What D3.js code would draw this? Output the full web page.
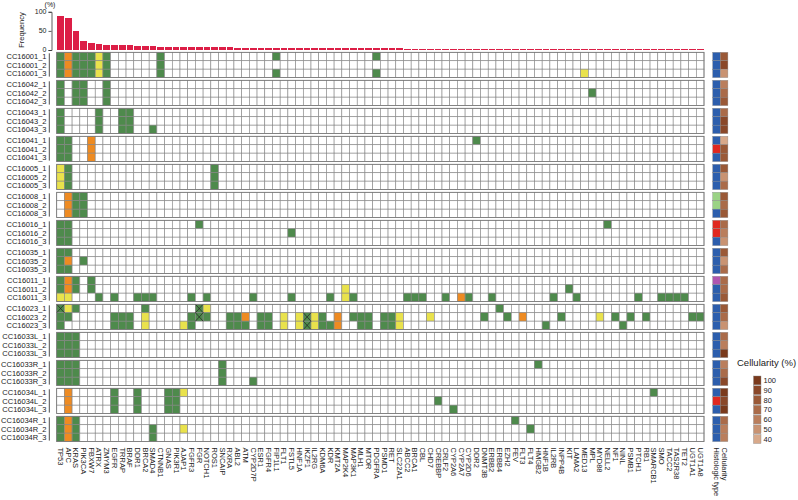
<!DOCTYPE html>
<html><head><meta charset="utf-8">
<script src="https://cdn.jsdelivr.net/npm/d3@7"></script>
<style>body{margin:0;background:#fff;} svg{display:block;font-family:"Liberation Sans",Arial,Helvetica,sans-serif;}</style>
</head><body><svg id="c" width="798" height="500"></svg>
<script>
const genes = ["TP53","APC","KRAS","PIK3CA","FBXW7","ATRX","ZMYM3","EGFR","TRRAP","BRAF","DDR1","BRCA2","SMAD4","CTNNB1","GNAS","PIK3R1","AJAP1","FGFR3","FGR","NOTCH1","ROS1","SNCAIP","RXRA","ABL2","ATM","CYP2D7P","ESR1","FGFR4","FIP1L1","FLT1","FSTL5","HNF1A","IKZF1","IL2RG","KDM6A","KDR","KMT2A","MAP2K4","MAP3K1","MLH1","MTOR","PDGFRA","PSMD1","RET","SLC22A1","ABCC2","BRCA1","CBL","CHD7","CREBBP","CRLF2","CYP2A6","CYP2A7","CYP2D6","DDR2","DNMT3B","ERBB2","ERBB4","EZH2","FEV","FLT3","FLT4","HMGB2","HNF1B","IL2RB","INPP4B","KIT","LAMA2","MED13","MPL","MYD88","NELL2","NF1","NINL","PSMB1","PTCH1","RB1","SMARCB1","SMO","TACC2","TAS2R38","TET2","UGT1A1","UGT1A8"];
const patients = ["CC16001","CC16042","CC16043","CC16041","CC16005","CC16008","CC16016","CC16035","CC16011","CC16023","CC16033L","CC16033R","CC16034L","CC16034R"];
const replicates = ["_1","_2","_3"];
// Frequency (%) per gene
const frequency = [88,84,50,24,19,17,14,14,12,12,9.5,9.5,9.5,
  7.1,7.1,7.1,7.1,7.1,7.1,7.1,7.1,7.1,7.1,
  4.8,4.8,4.8,4.8,4.8,4.8,4.8,4.8,4.8,4.8,4.8,4.8,4.8,4.8,4.8,4.8,4.8,4.8,4.8,4.8,4.8,4.8,
  2.4,2.4,2.4,2.4,2.4,2.4,2.4,2.4,2.4,2.4,2.4,2.4,2.4,2.4,2.4,2.4,2.4,2.4,2.4,2.4,2.4,2.4,2.4,2.4,2.4,2.4,2.4,2.4,2.4,2.4,2.4,2.4,2.4,2.4,2.4,2.4,2.4,2.4,2.4];
const freqTicks = [0,50,100];
// green cells
const greenCalls = [
 ["CC16001_1",["TP53","KRAS","PIK3CA","FBXW7","ZMYM3","CTNNB1","FIP1L1","PDGFRA"]],
 ["CC16001_2",["TP53","KRAS","PIK3CA","FBXW7","ZMYM3","CTNNB1"]],
 ["CC16001_3",["TP53","KRAS","PIK3CA","FBXW7","ZMYM3","CTNNB1","FIP1L1","PDGFRA"]],
 ["CC16042_1",["TP53","KRAS","PIK3CA","ZMYM3"]],
 ["CC16042_2",["TP53","KRAS","PIK3CA","ZMYM3","MPL"]],
 ["CC16042_3",["TP53","KRAS","PIK3CA","ZMYM3"]],
 ["CC16043_1",["TP53","ATRX","TRRAP","BRAF"]],
 ["CC16043_2",["TP53","ATRX","TRRAP","BRAF"]],
 ["CC16043_3",["TP53","ATRX","TRRAP","BRAF","SMAD4"]],
 ["CC16041_1",["TP53","APC","DDR2"]],
 ["CC16041_2",["TP53","APC"]],
 ["CC16041_3",["TP53","APC"]],
 ["CC16005_1",["APC","ROS1"]],
 ["CC16005_2",["APC","ROS1"]],
 ["CC16005_3",["APC","ROS1"]],
 ["CC16008_1",["KRAS","PIK3CA"]],
 ["CC16008_2",["KRAS","PIK3CA"]],
 ["CC16008_3",["KRAS","PIK3CA"]],
 ["CC16016_1",["TP53","APC","FGR","NELL2"]],
 ["CC16016_2",["TP53","APC","FSTL5"]],
 ["CC16016_3",["TP53","APC"]],
 ["CC16035_1",["TP53","APC"]],
 ["CC16035_2",["TP53","PIK3CA"]],
 ["CC16035_3",["TP53","APC"]],
 ["CC16011_1",["TP53","KRAS","FBXW7"]],
 ["CC16011_2",["TP53","KRAS","FBXW7","KIT"]],
 ["CC16011_3",["ATRX","EGFR","DDR1","BRCA2","SMAD4","FGFR3","NOTCH1","CYP2D7P","FSTL5","KDR","MAP3K1","ABCC2","BRCA1","CBL","CRLF2","CYP2D6","ERBB2","IL2RB","LAMA2","PTCH1","SMO","TACC2","TAS2R38","TET2"]],
 ["CC16023_1",["TP53","KRAS","BRCA2","FGR","ERBB4"]],
 ["CC16023_2",["TP53","APC","EGFR","TRRAP","BRAF","FGFR3","FGR","NOTCH1","RXRA","ABL2","ESR1","FGFR4","IKZF1","KDM6A","MAP3K1","MLH1","MTOR","PSMD1","RET","DNMT3B","EZH2","INPP4B","NF1","PSMB1","RB1","UGT1A1","UGT1A8"]],
 ["CC16023_3",["TP53","EGFR","TRRAP","BRAF","FGFR3","RXRA","ABL2","ATM","ESR1","FGFR4","IKZF1","KDM6A","KDR","MLH1","MTOR","PSMD1","RET","HNF1B","NINL"]],
 ["CC16033L_1",["TP53","APC","KRAS"]],
 ["CC16033L_2",["TP53","APC","KRAS"]],
 ["CC16033L_3",["TP53","APC","KRAS"]],
 ["CC16033R_1",["TP53","APC","KRAS","SNCAIP","HMGB2"]],
 ["CC16033R_2",["TP53","APC","KRAS","SNCAIP"]],
 ["CC16033R_3",["TP53","APC","KRAS","SNCAIP","CYP2D7P"]],
 ["CC16034L_1",["EGFR","DDR1","GNAS","PIK3R1","SMARCB1"]],
 ["CC16034L_2",["EGFR","DDR1","GNAS","PIK3R1","CREBBP"]],
 ["CC16034L_3",["EGFR","DDR1","GNAS","PIK3R1","CYP2A6"]],
 ["CC16034R_1",["TP53","KRAS","FEV"]],
 ["CC16034R_2",["TP53","KRAS","SMAD4","FLT4"]],
 ["CC16034R_3",["TP53","KRAS","SMAD4"]]
];
// orange cells
const orangeCalls = [
 ["CC16001_1",["APC"]],["CC16001_2",["APC"]],["CC16001_3",["APC"]],
 ["CC16041_1",["FBXW7"]],["CC16041_2",["FBXW7"]],["CC16041_3",["FBXW7"]],
 ["CC16008_1",["APC"]],["CC16008_2",["APC"]],["CC16008_3",["APC"]],
 ["CC16035_2",["APC"]],
 ["CC16011_1",["APC"]],["CC16011_2",["APC"]],["CC16011_3",["CYP2A7"]],
 ["CC16023_2",["ATM","KMT2A","FLT3"]],["CC16023_3",["KMT2A"]],
 ["CC16034L_1",["APC"]],["CC16034L_2",["APC"]],["CC16034L_3",["APC"]],
 ["CC16034R_1",["APC"]],["CC16034R_2",["APC"]],["CC16034R_3",["APC"]]
];
// yellow cells
const yellowCalls = [
 ["CC16001_1",["ATRX"]],["CC16001_2",["ATRX"]],["CC16001_3",["ATRX","MED13"]],
 ["CC16005_1",["TP53"]],["CC16005_2",["TP53"]],["CC16005_3",["TP53"]],
 ["CC16011_2",["MAP2K4"]],["CC16011_3",["TP53","APC","MAP2K4"]],
 ["CC16023_1",["APC","NOTCH1"]],
 ["CC16023_2",["BRCA2","FLT1","HNF1A","IL2RG","SLC22A1","CHD7","MYD88"]],
 ["CC16023_3",["BRCA2","AJAP1","FLT1","HNF1A","IL2RG","SLC22A1"]],
 ["CC16034L_1",["AJAP1"]],
 ["CC16034R_2",["AJAP1"]]
];
// cells marked with a cross
const crossCalls = [
 ["CC16023_1",["TP53","FGR"]],
 ["CC16023_2",["FGR","IKZF1"]],
 ["CC16023_3",["IKZF1"]]
];
const histologicType = [
 "A","A","A", "A","A","A", "A","A","A", "A","B","A", "A","A","A", "C","C","A", "B","B","A",
 "A","A","A", "D","A","A", "A","A","A", "A","A","A", "A","A","A", "A","B","A", "A","A","A"];
const cellularity = [
 80,90,50, 60,70,80, 70,90,90, 40,80,80, 80,50,70, 80,70,80, 70,60,50,
 80,50,70, 70,70,80, 80,70,50, 70,60,100, 60,70,90, 100,90,100, 70,60,60];
const cellularityLevels = [100,90,80,70,60,50,40];

const svg = d3.select("#c");
const samples = patients.flatMap(p => replicates.map(r => p + r));
const x = d3.scaleBand().domain(genes).range([56.7, 704]);
const yP = d3.scaleBand().domain(patients).range([52.3, 441.6]).paddingInner(0.0964);
const yR = d3.scaleBand().domain(replicates).range([0, yP.bandwidth()]);
const ySample = s => { const p = s.slice(0, s.lastIndexOf("_")), r = s.slice(s.lastIndexOf("_")); return yP(p) + yR(r); };
const yF = d3.scaleLinear().domain([0, 100]).range([50, 11.8]);

const GREEN = "#4e8a4c", ORANGE = "#ee8b22", YELLOW = "#e9e24c", RED = "#dc1e46";
const histColor = d3.scaleOrdinal().domain(["A","B","C","D"]).range(["#2c5ead","#e0281f","#9bd385","#b056b0"]);
const cellColor = d3.scaleOrdinal().domain(cellularityLevels).range(["#7a3a1c","#8a4829","#9a5937","#aa6b49","#ba7e5c","#c99372","#d8a98a"]);

// frequency bars
const gF = svg.append("g").attr("shape-rendering", "crispEdges");
gF.selectAll("rect").data(genes).join("rect")
  .attr("x", (g) => x(g) + 0.5).attr("width", x.bandwidth() - 1)
  .attr("y", (g, i) => yF(frequency[i])).attr("height", (g, i) => Math.max(1, yF(0) - yF(frequency[i])))
  .attr("fill", RED);
const axF = d3.axisLeft(yF).tickValues(freqTicks).tickSize(3).tickPadding(2);
const gA = svg.append("g").attr("transform", "translate(51.5,0)").call(axF);
gA.select(".domain").attr("stroke", "#333").attr("stroke-width", 0.8);
gA.selectAll(".tick line").attr("stroke", "#333").attr("stroke-width", 0.8);
gA.selectAll("text").attr("font-size", 7).attr("fill", "#222").attr("dy", "0.2em").attr("font-family", "Liberation Sans, Arial, sans-serif");
svg.append("text").attr("transform", "translate(24,30) rotate(-90)").attr("text-anchor", "middle")
  .attr("font-size", 7.5).attr("fill", "#222").text("Frequency");
svg.append("text").attr("x", 50).attr("y", 6.5).attr("text-anchor", "middle").attr("font-size", 7).attr("fill", "#222").text("(%)");

// grid cells
const cellMap = new Map();
greenCalls.forEach(([s, gs]) => gs.forEach(g => cellMap.set(s + "|" + g, GREEN)));
orangeCalls.forEach(([s, gs]) => gs.forEach(g => cellMap.set(s + "|" + g, ORANGE)));
yellowCalls.forEach(([s, gs]) => gs.forEach(g => cellMap.set(s + "|" + g, YELLOW)));
const cells = samples.flatMap(s => genes.map(g => ({ s, g, c: cellMap.get(s + "|" + g) || "#fff" })));
const gG = svg.append("g");
gG.selectAll("rect").data(cells).join("rect")
  .attr("x", d => x(d.g)).attr("y", d => ySample(d.s))
  .attr("width", x.bandwidth()).attr("height", yR.bandwidth())
  .attr("fill", d => d.c).attr("stroke", "#858585").attr("stroke-width", 0.6);
// crosses
const crosses = crossCalls.flatMap(([s, gs]) => gs.map(g => ({ s, g })));
const gX = svg.append("g");
crosses.forEach(d => {
  const x0 = x(d.g), y0 = ySample(d.s), w = x.bandwidth(), h = yR.bandwidth();
  gX.append("line").attr("x1", x0).attr("y1", y0).attr("x2", x0 + w).attr("y2", y0 + h).attr("stroke", "#222").attr("stroke-width", 0.7);
  gX.append("line").attr("x1", x0 + w).attr("y1", y0).attr("x2", x0).attr("y2", y0 + h).attr("stroke", "#222").attr("stroke-width", 0.7);
});
// group outlines
svg.append("g").selectAll("rect").data(patients).join("rect")
  .attr("x", x.range()[0]).attr("y", d => yP(d)).attr("width", x.range()[1] - x.range()[0]).attr("height", yP.bandwidth())
  .attr("fill", "none").attr("stroke", "#777").attr("stroke-width", 0.8);

// row labels and group brackets
svg.append("g").selectAll("text").data(samples).join("text")
  .attr("x", 46.5).attr("y", s => ySample(s) + yR.bandwidth() / 2).attr("dy", "0.35em")
  .attr("text-anchor", "end").attr("font-size", 7.5).attr("fill", "#222").text(s => s);
svg.append("g").selectAll("line").data(patients).join("line")
  .attr("x1", 49.3).attr("x2", 49.3).attr("y1", d => yP(d) + 1).attr("y2", d => yP(d) + yP.bandwidth() - 1)
  .attr("stroke", "#222").attr("stroke-width", 0.8);

// gene labels
svg.append("g").selectAll("text").data(genes).join("text")
  .attr("transform", g => `translate(${x(g) + x.bandwidth() / 2 - 2.6},447.5) rotate(90)`)
  .attr("font-size", 7.5).attr("fill", "#222").text(g => g);

// annotation columns
const annX = { hist: 712.7, cell: 720.3 }, annW = 7.6;
const gAnn = svg.append("g");
gAnn.selectAll(".h").data(samples).join("rect").attr("class", "h")
  .attr("x", annX.hist).attr("y", s => ySample(s)).attr("width", annW).attr("height", yR.bandwidth())
  .attr("fill", (s, i) => histColor(histologicType[i])).attr("stroke", "#8a8a8a").attr("stroke-width", 0.4);
gAnn.selectAll(".c").data(samples).join("rect").attr("class", "c")
  .attr("x", annX.cell).attr("y", s => ySample(s)).attr("width", annW).attr("height", yR.bandwidth())
  .attr("fill", (s, i) => cellColor(cellularity[i])).attr("stroke", "#8a8a8a").attr("stroke-width", 0.4);
svg.append("text").attr("transform", `translate(${annX.hist + annW / 2 - 2.6},447.5) rotate(90)`).attr("font-size", 7.5).attr("fill", "#222").text("Histologic type");
svg.append("text").attr("transform", `translate(${annX.cell + annW / 2 - 2.6},447.5) rotate(90)`).attr("font-size", 7.5).attr("fill", "#222").text("Cellularity");

// legend
svg.append("text").attr("x", 737).attr("y", 366).attr("font-size", 9.5).attr("fill", "#222").text("Cellularity (%)");
const yL = d3.scaleBand().domain(cellularityLevels).range([376, 443.5]).paddingInner(0.1);
const gL = svg.append("g");
gL.selectAll("rect").data(cellularityLevels).join("rect")
  .attr("x", 753.5).attr("y", d => yL(d)).attr("width", 7.5).attr("height", yL.bandwidth())
  .attr("fill", d => cellColor(d)).attr("stroke", "#888").attr("stroke-width", 0.4);
gL.selectAll("text").data(cellularityLevels).join("text")
  .attr("x", 763.5).attr("y", d => yL(d) + yL.bandwidth() / 2).attr("dy", "0.35em")
  .attr("font-size", 7.5).attr("fill", "#222").text(d => d);
</script></body></html>
